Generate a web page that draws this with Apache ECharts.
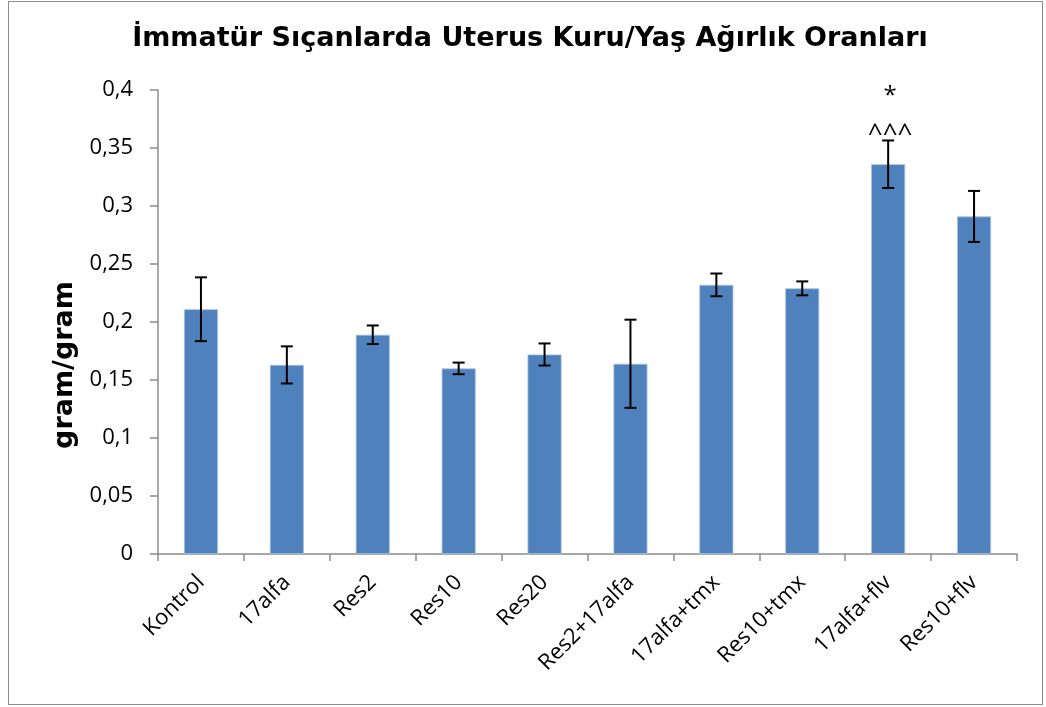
<!DOCTYPE html>
<html><head><meta charset="utf-8">
<script src="https://cdn.jsdelivr.net/npm/echarts@6/dist/echarts.min.js"></script>
<style>html,body{margin:0;padding:0;background:#fff}#c{width:1046px;height:707px}
#frame{position:absolute;left:8px;top:1px;width:1035px;height:704px;border:1.5px solid #8c8c8c;box-sizing:border-box;pointer-events:none}</style>
</head><body><div id="c"></div><div id="frame"></div>
<script>
const categories = ['Kontrol','17alfa','Res2','Res10','Res20','Res2+17alfa','17alfa+tmx','Res10+tmx','17alfa+flv','Res10+flv'];
const means = [0.211, 0.163, 0.189, 0.160, 0.172, 0.164, 0.232, 0.229, 0.336, 0.291];
const errors = [0.0275, 0.016, 0.008, 0.005, 0.0095, 0.038, 0.0098, 0.006, 0.0205, 0.022];
const yTicks = [0, 0.05, 0.1, 0.15, 0.2, 0.25, 0.3, 0.35, 0.4];
const annotationCats = ['17alfa+flv'];
const annotationTexts = [['*', '^^^']];

const errData = categories.map((c, i) => [i, means[i] - errors[i], means[i] + errors[i]]);
const annData = annotationCats.map((c, k) => {
  const i = categories.indexOf(c);
  return [i, means[i] + errors[i], k];
});
const fmt = v => String(Math.round(v * 100) / 100).replace('.', ',');
const chart = echarts.init(document.getElementById('c'));
chart.setOption({
  animation: false,
  title: {
    text: 'İmmatür Sıçanlarda Uterus Kuru/Yaş Ağırlık Oranları',
    left: 525, top: 20, textAlign: 'center',
    textStyle: { fontFamily: 'DejaVu Sans', fontWeight: 'bold', fontSize: 27, color: '#000' }
  },
  grid: { left: 158, right: 29, top: 90, bottom: 153 },
  xAxis: {
    type: 'category', data: categories,
    axisLine: { lineStyle: { color: '#8c8c8c', width: 1.5 } },
    axisTick: { show: true, length: 7, lineStyle: { color: '#8c8c8c', width: 1.5 } },
    axisLabel: { rotate: 45, fontFamily: 'Open Sans', fontSize: 22, color: '#000', margin: 25, interval: 0 }
  },
  yAxis: {
    type: 'value', min: 0, max: 0.4, interval: 0.05,
    name: 'gram/gram', nameLocation: 'middle', nameGap: 80, nameRotate: 90,
    nameTextStyle: { fontFamily: 'DejaVu Sans', fontWeight: 'bold', fontSize: 27, color: '#000', padding: [0, 86, 0, 0] },
    axisLine: { show: true, lineStyle: { color: '#8c8c8c', width: 1.5 } },
    axisTick: { show: true, length: 8, lineStyle: { color: '#8c8c8c', width: 1.5 } },
    splitLine: { show: false },
    axisLabel: { fontFamily: 'Open Sans', fontSize: 22, color: '#000', margin: 25,
      formatter: v => yTicks.some(t => Math.abs(t - v) < 1e-9) ? fmt(v) : '' }
  },
  series: [
    { type: 'bar', data: means, barWidth: 34,
      itemStyle: { color: '#4f81bd', borderColor: '#a7c0de', borderWidth: 0.8 } },
    { type: 'custom', data: errData, z: 5,
      renderItem: (params, api) => {
        const x = api.value(0);
        const lo = api.coord([x, api.value(1)]);
        const hi = api.coord([x, api.value(2)]);
        const w = 6;
        const st = { stroke: '#000', lineWidth: 2 };
        return { type: 'group', children: [
          { type: 'line', shape: { x1: lo[0], y1: lo[1], x2: hi[0], y2: hi[1] }, style: st },
          { type: 'line', shape: { x1: lo[0] - w, y1: lo[1], x2: lo[0] + w, y2: lo[1] }, style: st },
          { type: 'line', shape: { x1: hi[0] - w, y1: hi[1], x2: hi[0] + w, y2: hi[1] }, style: st }
        ]};
      } },
    { type: 'custom', data: annData, z: 6,
      renderItem: (params, api) => {
        const p = api.coord([api.value(0), api.value(1)]);
        const texts = annotationTexts[api.value(2)];
        return { type: 'group', children: [
          { type: 'text', x: p[0] + 2, y: p[1] - 6, style: { text: texts[1], fill: '#000', font: '26px "Open Sans"', align: 'center', verticalAlign: 'middle' } },
          { type: 'text', x: p[0] + 2, y: p[1] - 44, style: { text: texts[0], fill: '#000', font: '24px "Open Sans"', align: 'center', verticalAlign: 'middle' } }
        ]};
      } }
  ]
});
</script></body></html>
